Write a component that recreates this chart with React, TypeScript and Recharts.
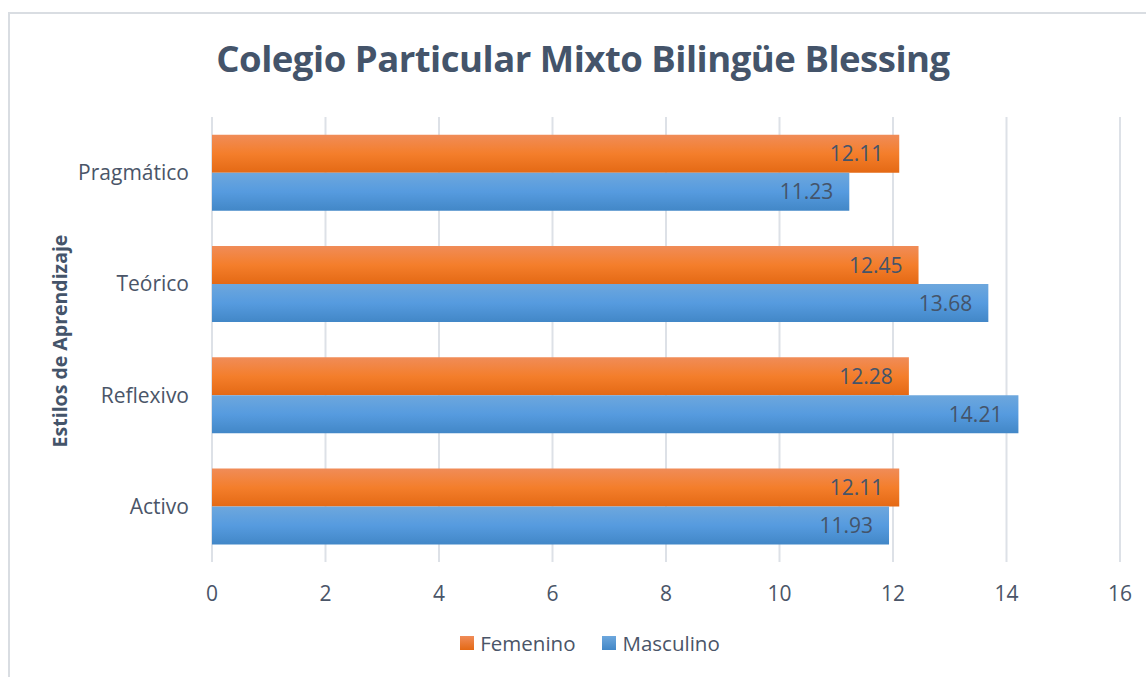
import React from 'react';
import { BarChart, Bar, XAxis, YAxis, CartesianGrid, LabelList } from 'recharts';

const categories = ['Pragmático', 'Teórico', 'Reflexivo', 'Activo'];
const femenino = [12.11, 12.45, 12.28, 12.11];
const masculino = [11.23, 13.68, 14.21, 11.93];
const xTicks = [0, 2, 4, 6, 8, 10, 12, 14, 16];

const data = categories.map((c, i) => ({ name: c, Femenino: femenino[i], Masculino: masculino[i] }));

const FONT = '"Open Sans", "Liberation Sans", sans-serif';
const TEXT = '#4A5568';

export default function App() {
  return (
    <div style={{ position: 'absolute', left: 0, top: 0, width: 1146, height: 677, background: '#fff', fontFamily: FONT }}>
      <div style={{ position: 'absolute', left: 8, top: 12, width: 1150, height: 680, border: '2px solid #D9DDE2', boxSizing: 'border-box' }} />
      <div style={{ position: 'absolute', left: 0, top: 33, width: 1166, textAlign: 'center', fontSize: 36.5, fontWeight: 700, color: '#44546A', letterSpacing: -0.5 }}>
        Colegio Particular Mixto Bilingüe Blessing
      </div>
      <svg style={{ position: 'absolute', left: 0, top: 0 }} width={120} height={677}>
        <text x={67} y={341} transform="rotate(-90 67 341)" textAnchor="middle" fontSize={19.5} fontWeight={700} fill="#44546A" fontFamily={FONT}>
          Estilos de Aprendizaje
        </text>
      </svg>
      <div style={{ position: 'absolute', left: 0, top: 0 }}>
        <BarChart
          width={1146}
          height={677}
          data={data}
          layout="vertical"
          margin={{ top: 117, right: 26, bottom: 85, left: 0 }}
          barCategoryGap="16%"
          barGap={0}
        >
          <defs>
            <linearGradient id="gOrange" x1="0" y1="0" x2="0" y2="1">
              <stop offset="0%" stopColor="#F08C58" />
              <stop offset="50%" stopColor="#F47E2B" />
              <stop offset="100%" stopColor="#E46914" />
            </linearGradient>
            <linearGradient id="gBlue" x1="0" y1="0" x2="0" y2="1">
              <stop offset="0%" stopColor="#6DA7DD" />
              <stop offset="50%" stopColor="#569BDF" />
              <stop offset="100%" stopColor="#4287C7" />
            </linearGradient>
          </defs>
          <CartesianGrid horizontal={false} vertical={true} stroke="#DDE1E7" strokeWidth={2} />
          <XAxis
            type="number"
            domain={[0, 16]}
            ticks={xTicks}
            axisLine={false}
            tickLine={false}
            tickSize={0}
            tickMargin={24}
            tick={{ fill: TEXT, fontSize: 21, fontFamily: FONT }}
            interval={0}
          />
          <YAxis
            type="category"
            dataKey="name"
            width={212}
            axisLine={false}
            tickLine={false}
            tickSize={0}
            tickMargin={23}
            tick={{ fill: TEXT, fontSize: 21, fontFamily: FONT }}
          />
          <Bar dataKey="Femenino" fill="url(#gOrange)" isAnimationActive={false}>
            <LabelList dataKey="Femenino" position="insideRight" offset={16} fill="#44546A" fontSize={21} fontFamily={FONT} formatter={(v: number) => v.toFixed(2)} />
          </Bar>
          <Bar dataKey="Masculino" fill="url(#gBlue)" isAnimationActive={false}>
            <LabelList dataKey="Masculino" position="insideRight" offset={16} fill="#44546A" fontSize={21} fontFamily={FONT} formatter={(v: number) => v.toFixed(2)} />
          </Bar>
        </BarChart>
      </div>
      <div style={{ position: 'absolute', left: 6, top: 629, width: 1168, display: 'flex', justifyContent: 'center', alignItems: 'center', fontSize: 20.5, color: TEXT }}>
        <span style={{ display: 'inline-block', width: 14, height: 14, background: 'linear-gradient(#F08C58, #E46914)', marginRight: 6 }} />
        <span style={{ marginRight: 27 }}>Femenino</span>
        <span style={{ display: 'inline-block', width: 14, height: 14, background: 'linear-gradient(#6DA7DD, #4287C7)', marginRight: 6 }} />
        <span>Masculino</span>
      </div>
    </div>
  );
}
